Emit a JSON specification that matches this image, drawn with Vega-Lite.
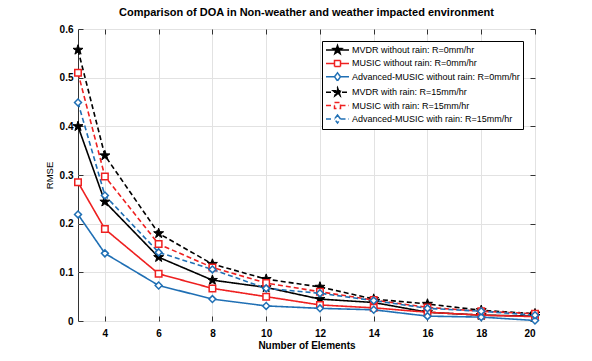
{
  "$schema": "https://vega.github.io/schema/vega-lite/v6.json",
  "width": 457,
  "height": 292,
  "autosize": "none",
  "padding": {"left": 78, "top": 29, "right": 57, "bottom": 40},
  "background": "white",
  "config": {"view": {"stroke": "#333333", "strokeWidth": 1}, "font": "Liberation Sans"},
  "title": {"text": "Comparison of DOA in Non-weather and weather impacted environment", "fontSize": 11, "fontWeight": "bold", "font": "Liberation Sans", "color": "black", "offset": 6},
  "data": {"values": [
    {"n": 3, "rmse": 0.400, "s": "MVDR without rain: R=0mm/hr"},
    {"n": 4, "rmse": 0.245, "s": "MVDR without rain: R=0mm/hr"},
    {"n": 6, "rmse": 0.131, "s": "MVDR without rain: R=0mm/hr"},
    {"n": 8, "rmse": 0.084, "s": "MVDR without rain: R=0mm/hr"},
    {"n": 10, "rmse": 0.069, "s": "MVDR without rain: R=0mm/hr"},
    {"n": 12, "rmse": 0.045, "s": "MVDR without rain: R=0mm/hr"},
    {"n": 14, "rmse": 0.038, "s": "MVDR without rain: R=0mm/hr"},
    {"n": 16, "rmse": 0.018, "s": "MVDR without rain: R=0mm/hr"},
    {"n": 18, "rmse": 0.012, "s": "MVDR without rain: R=0mm/hr"},
    {"n": 20, "rmse": 0.010, "s": "MVDR without rain: R=0mm/hr"},
    {"n": 3, "rmse": 0.285, "s": "MUSIC without rain: R=0mm/hr"},
    {"n": 4, "rmse": 0.189, "s": "MUSIC without rain: R=0mm/hr"},
    {"n": 6, "rmse": 0.097, "s": "MUSIC without rain: R=0mm/hr"},
    {"n": 8, "rmse": 0.067, "s": "MUSIC without rain: R=0mm/hr"},
    {"n": 10, "rmse": 0.050, "s": "MUSIC without rain: R=0mm/hr"},
    {"n": 12, "rmse": 0.033, "s": "MUSIC without rain: R=0mm/hr"},
    {"n": 14, "rmse": 0.027, "s": "MUSIC without rain: R=0mm/hr"},
    {"n": 16, "rmse": 0.018, "s": "MUSIC without rain: R=0mm/hr"},
    {"n": 18, "rmse": 0.012, "s": "MUSIC without rain: R=0mm/hr"},
    {"n": 20, "rmse": 0.009, "s": "MUSIC without rain: R=0mm/hr"},
    {"n": 3, "rmse": 0.219, "s": "Advanced-MUSIC without rain: R=0mm/hr"},
    {"n": 4, "rmse": 0.139, "s": "Advanced-MUSIC without rain: R=0mm/hr"},
    {"n": 6, "rmse": 0.073, "s": "Advanced-MUSIC without rain: R=0mm/hr"},
    {"n": 8, "rmse": 0.045, "s": "Advanced-MUSIC without rain: R=0mm/hr"},
    {"n": 10, "rmse": 0.031, "s": "Advanced-MUSIC without rain: R=0mm/hr"},
    {"n": 12, "rmse": 0.026, "s": "Advanced-MUSIC without rain: R=0mm/hr"},
    {"n": 14, "rmse": 0.023, "s": "Advanced-MUSIC without rain: R=0mm/hr"},
    {"n": 16, "rmse": 0.010, "s": "Advanced-MUSIC without rain: R=0mm/hr"},
    {"n": 18, "rmse": 0.008, "s": "Advanced-MUSIC without rain: R=0mm/hr"},
    {"n": 20, "rmse": 0.001, "s": "Advanced-MUSIC without rain: R=0mm/hr"},
    {"n": 3, "rmse": 0.557, "s": "MVDR with rain: R=15mm/hr"},
    {"n": 4, "rmse": 0.340, "s": "MVDR with rain: R=15mm/hr"},
    {"n": 6, "rmse": 0.180, "s": "MVDR with rain: R=15mm/hr"},
    {"n": 8, "rmse": 0.117, "s": "MVDR with rain: R=15mm/hr"},
    {"n": 10, "rmse": 0.086, "s": "MVDR with rain: R=15mm/hr"},
    {"n": 12, "rmse": 0.070, "s": "MVDR with rain: R=15mm/hr"},
    {"n": 14, "rmse": 0.045, "s": "MVDR with rain: R=15mm/hr"},
    {"n": 16, "rmse": 0.035, "s": "MVDR with rain: R=15mm/hr"},
    {"n": 18, "rmse": 0.022, "s": "MVDR with rain: R=15mm/hr"},
    {"n": 20, "rmse": 0.015, "s": "MVDR with rain: R=15mm/hr"},
    {"n": 3, "rmse": 0.510, "s": "MUSIC with rain: R=15mm/hr"},
    {"n": 4, "rmse": 0.297, "s": "MUSIC with rain: R=15mm/hr"},
    {"n": 6, "rmse": 0.158, "s": "MUSIC with rain: R=15mm/hr"},
    {"n": 8, "rmse": 0.110, "s": "MUSIC with rain: R=15mm/hr"},
    {"n": 10, "rmse": 0.078, "s": "MUSIC with rain: R=15mm/hr"},
    {"n": 12, "rmse": 0.060, "s": "MUSIC with rain: R=15mm/hr"},
    {"n": 14, "rmse": 0.043, "s": "MUSIC with rain: R=15mm/hr"},
    {"n": 16, "rmse": 0.028, "s": "MUSIC with rain: R=15mm/hr"},
    {"n": 18, "rmse": 0.020, "s": "MUSIC with rain: R=15mm/hr"},
    {"n": 20, "rmse": 0.015, "s": "MUSIC with rain: R=15mm/hr"},
    {"n": 3, "rmse": 0.449, "s": "Advanced-MUSIC with rain: R=15mm/hr"},
    {"n": 4, "rmse": 0.258, "s": "Advanced-MUSIC with rain: R=15mm/hr"},
    {"n": 6, "rmse": 0.141, "s": "Advanced-MUSIC with rain: R=15mm/hr"},
    {"n": 8, "rmse": 0.106, "s": "Advanced-MUSIC with rain: R=15mm/hr"},
    {"n": 10, "rmse": 0.067, "s": "Advanced-MUSIC with rain: R=15mm/hr"},
    {"n": 12, "rmse": 0.057, "s": "Advanced-MUSIC with rain: R=15mm/hr"},
    {"n": 14, "rmse": 0.042, "s": "Advanced-MUSIC with rain: R=15mm/hr"},
    {"n": 16, "rmse": 0.026, "s": "Advanced-MUSIC with rain: R=15mm/hr"},
    {"n": 18, "rmse": 0.020, "s": "Advanced-MUSIC with rain: R=15mm/hr"},
    {"n": 20, "rmse": 0.012, "s": "Advanced-MUSIC with rain: R=15mm/hr"}
  ]},
  "layer": [
    {
      "mark": {"type": "line", "strokeWidth": 1.6, "clip": true},
      "encoding": {
        "x": {"field": "n", "type": "quantitative", "scale": {"domain": [3, 20], "nice": false, "zero": false},
          "axis": {"orient": "bottom", "values": [4, 6, 8, 10, 12, 14, 16, 18, 20], "grid": true, "gridColor": "#e2e2e2", "gridOpacity": 1, "domain": false, "tickSize": -5, "tickColor": "#333333", "labelFont": "Liberation Sans", "labelFontWeight": "bold", "labelFontSize": 10, "labelColor": "black", "labelPadding": 12, "title": "Number of Elements", "titleFont": "Liberation Sans", "titleFontWeight": "bold", "titleFontSize": 10, "titleColor": "black", "titlePadding": 2}},
        "y": {"field": "rmse", "type": "quantitative", "scale": {"domain": [0, 0.6], "nice": false},
          "axis": {"orient": "left", "values": [0, 0.1, 0.2, 0.3, 0.4, 0.5, 0.6], "format": "~g", "grid": true, "gridColor": "#e2e2e2", "gridOpacity": 1, "domain": false, "tickSize": -5, "tickColor": "#333333", "labelFont": "Liberation Sans", "labelFontWeight": "bold", "labelFontSize": 10, "labelColor": "black", "labelPadding": 10, "title": "RMSE", "titleFont": "Liberation Sans", "titleFontWeight": "normal", "titleFontSize": 9.5, "titleColor": "black", "titlePadding": 5}},
        "stroke": {"field": "s", "type": "nominal",
          "scale": {"domain": ["MVDR without rain: R=0mm/hr", "MUSIC without rain: R=0mm/hr", "Advanced-MUSIC without rain: R=0mm/hr", "MVDR with rain: R=15mm/hr", "MUSIC with rain: R=15mm/hr", "Advanced-MUSIC with rain: R=15mm/hr"],
            "range": ["#000000", "#ee2020", "#1f6fb4", "#000000", "#ee2020", "#1f6fb4"]},
          "legend": {"title": null, "orient": "top-right", "offset": 12, "fillColor": "white", "strokeColor": "black", "padding": 3, "cornerRadius": 0, "labelFont": "Liberation Sans", "labelFontSize": 9, "labelColor": "black", "labelLimit": 300, "symbolSize": 100, "symbolStrokeWidth": 1.5, "labelOffset": 15, "rowPadding": 0.4,
            "encode": {"symbols": {"update": {
              "shape": {"signal": "indexof(datum.value,'MVDR')>=0 ? 'M-1,0L3.6,0M1.3,-0.9L1.512,-0.291L2.156,-0.278L1.642,0.111L1.829,0.728L1.3,0.36L0.771,0.728L0.958,0.111L0.444,-0.278L1.088,-0.291Z' : indexof(datum.value,'Advanced')>=0 ? 'M-1,0L0.7,0M1.9,0L3.6,0M1.3,-0.8L1.9,0L1.3,0.8L0.7,0Z' : 'M-1,0L0.7,0M1.9,0L3.6,0M0.7,-0.6L1.9,-0.6L1.9,0.6L0.7,0.6Z'"},
              "size": {"value": 100},
              "fill": {"signal": "indexof(datum.value,'MVDR')>=0 ? '#000000' : '#ffffff'"}
            }}}}},
        "strokeDash": {"field": "s", "type": "nominal", "legend": null,
          "scale": {"domain": ["MVDR without rain: R=0mm/hr", "MUSIC without rain: R=0mm/hr", "Advanced-MUSIC without rain: R=0mm/hr", "MVDR with rain: R=15mm/hr", "MUSIC with rain: R=15mm/hr", "Advanced-MUSIC with rain: R=15mm/hr"],
            "range": [[1, 0], [1, 0], [1, 0], [5, 3], [5, 3], [5, 3]]}}
      }
    },
    {
      "transform": [{"filter": "indexof(datum.s,'MVDR')==0"}],
      "mark": {"type": "point", "shape": "M0,-1L0.235,-0.324L0.951,-0.309L0.38,0.124L0.588,0.809L0,0.4L-0.588,0.809L-0.38,0.124L-0.951,-0.309L-0.235,-0.324Z", "size": 110, "filled": true, "fill": "#000000", "strokeWidth": 1, "opacity": 1, "clip": false},
      "encoding": {
        "x": {"field": "n", "type": "quantitative",
          "axis": {"orient": "top", "values": [4, 6, 8, 10, 12, 14, 16, 18, 20], "labels": false, "title": null, "grid": false, "domain": false, "tickSize": -5, "tickColor": "#333333"}},
        "y": {"field": "rmse", "type": "quantitative",
          "axis": {"orient": "right", "values": [0, 0.1, 0.2, 0.3, 0.4, 0.5, 0.6], "labels": false, "title": null, "grid": false, "domain": false, "tickSize": -5, "tickColor": "#333333"}},
        "stroke": {"field": "s", "type": "nominal", "legend": null}
      }
    },
    {
      "transform": [{"filter": "indexof(datum.s,'MUSIC')==0"}],
      "mark": {"type": "point", "shape": "square", "size": 42, "filled": true, "fill": "#ffffff", "strokeWidth": 1.5, "opacity": 1, "clip": false},
      "encoding": {
        "x": {"field": "n", "type": "quantitative", "axis": null},
        "y": {"field": "rmse", "type": "quantitative", "axis": null},
        "stroke": {"field": "s", "type": "nominal", "legend": null}
      }
    },
    {
      "transform": [{"filter": "indexof(datum.s,'Advanced')==0"}],
      "mark": {"type": "point", "shape": "diamond", "size": 48, "filled": true, "fill": "#ffffff", "strokeWidth": 1.5, "opacity": 1, "clip": false},
      "encoding": {
        "x": {"field": "n", "type": "quantitative", "axis": null},
        "y": {"field": "rmse", "type": "quantitative", "axis": null},
        "stroke": {"field": "s", "type": "nominal", "legend": null}
      }
    }
  ],
  "resolve": {"axis": {"x": "independent", "y": "independent"}}
}
